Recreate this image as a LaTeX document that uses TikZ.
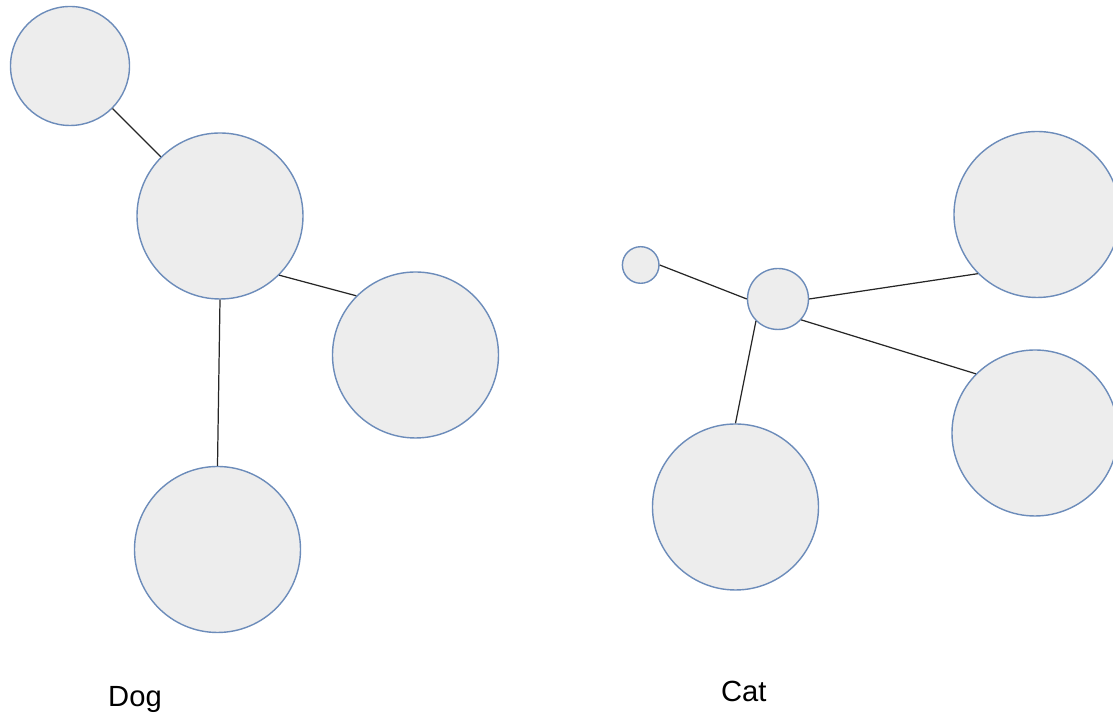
\documentclass[tikz,border=0pt]{standalone}
\usepackage{fontspec}
\setmainfont{Liberation Sans}
\usepackage{xcolor}
\usepackage{tikz}
\usetikzlibrary{positioning,calc}

\definecolor{ballfill}{RGB}{237,237,237}
\definecolor{ballline}{RGB}{108,140,186}

\begin{document}
\begin{tikzpicture}[
    ball/.style={circle, draw=ballline, fill=ballfill, line width=0.4pt, inner sep=0pt},
    big/.style={ball, minimum size=1.66cm},
    link/.style={draw=black!85, line width=0.35pt},
    lbl/.style={font=\fontsize{8.3}{10}\selectfont, anchor=base}
]
    \useasboundingbox (0,0) rectangle (11.13,7.16);

    % Dog
    \node[ball, minimum size=1.19cm] (dtop) at (0.70, 6.50) {};
    \node[big] (dhub) at (2.20, 5.00) {};
    \node[big] (dright) at (4.155, 3.61) {};
    \node[big] (dbot) at (2.175, 1.665) {};

    \draw[link] (dtop.-45) -- (dhub.135);
    \draw[link] (dhub.-45) -- (dright.135);
    \draw[link] (dhub.270) -- (dbot.90);

    \node[lbl] (dog) at (1.35, 0.093) {Dog};

    % Cat
    \node[ball, minimum size=0.366cm] (ctiny) at (6.407, 4.51) {};
    \node[ball, minimum size=0.61cm] (chub) at (7.78, 4.17) {};
    \node[big] (ctop) at (10.37, 5.015) {};
    \node[big] (cright) at (10.35, 2.83) {};
    \node[big] (cbot) at (7.355, 2.09) {};

    \draw[link] (ctiny.east) -- (chub.west);
    \draw[link] (chub.east) -- (ctop.225);
    \draw[link] (chub.-42) -- (cright.135);
    \draw[link] (chub.225) -- (cbot.90);

    \node[lbl] (cat) at (7.437, 0.143) {Cat};
\end{tikzpicture}
\end{document}
